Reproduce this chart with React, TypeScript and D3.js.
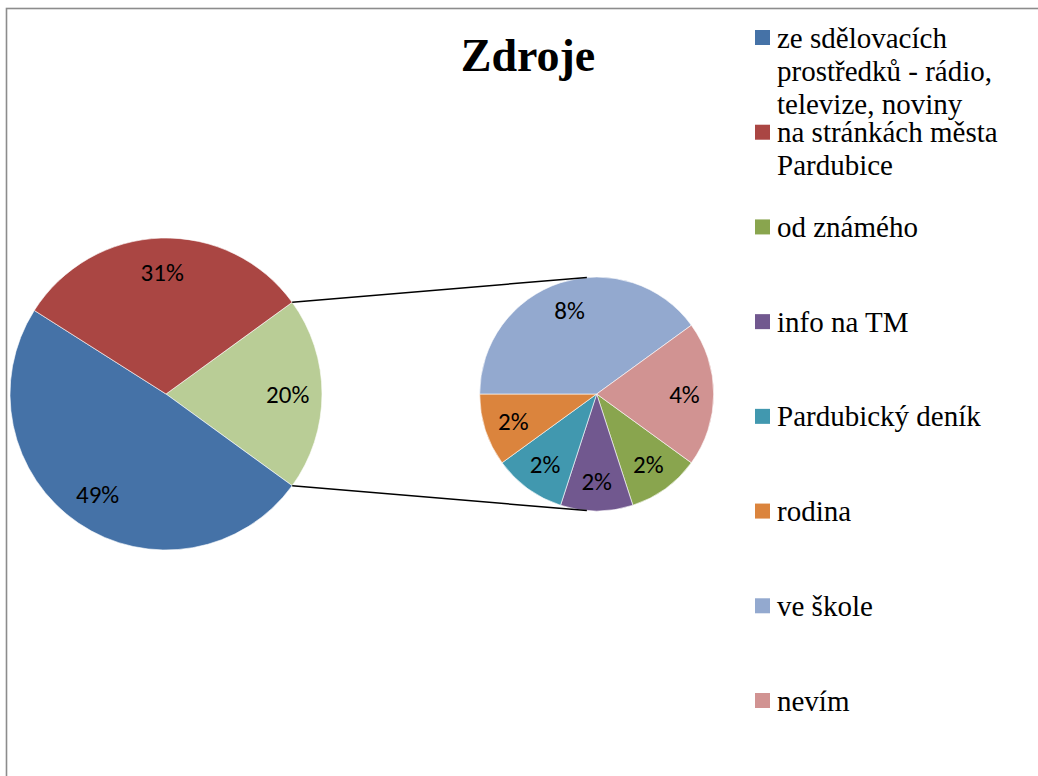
import { useEffect, useRef } from 'react'
import * as d3 from 'd3'

const title = 'Zdroje'

// main pie
const mainCategories = [
  'ze sdělovacích prostředků - rádio, televize, noviny',
  'na stránkách města Pardubice',
]
const mainValues = [49, 31]
const mainColors = ['#4572A7', '#AA4643']
const otherColor = '#B9CD96'

// secondary pie (the "other" part)
const subCategories = ['od známého', 'info na TM', 'Pardubický deník', 'rodina', 've škole', 'nevím']
const subValues = [2, 2, 2, 2, 8, 4]
const subColors = ['#89A54E', '#71588F', '#4198AF', '#DB843D', '#93A9CF', '#D19392']

const serif = "'Liberation Serif', 'DejaVu Serif', serif"
const sans = "Carlito, 'Liberation Sans', 'DejaVu Sans', sans-serif"

export default function App() {
  const svgRef = useRef<SVGSVGElement | null>(null)

  useEffect(() => {
    if (!svgRef.current) return
    const W = 1038
    const H = 776

    d3.select(svgRef.current).selectAll('*').remove()
    const svg = d3.select(svgRef.current)

    // chart area frame (runs off the right and bottom edge)
    svg.append('rect')
      .attr('x', 6.5)
      .attr('y', 8.5)
      .attr('width', W + 20)
      .attr('height', H + 20)
      .attr('fill', '#fff')
      .attr('stroke', '#8c8c8c')
      .attr('stroke-width', 1.6)

    const total = d3.sum(mainValues) + d3.sum(subValues)
    const otherValue = d3.sum(subValues)
    const fmt = (v: number) => `${Math.round((v / total) * 100)}%`

    const mc = { x: 166, y: 394, r: 156 }
    const sc = { x: 596.7, y: 394, r: 117 }

    // main pie: "other" slice centred on the right side
    const mainData = [
      { name: 'other', value: otherValue, color: otherColor },
      ...mainCategories.map((c, i) => ({ name: c, value: mainValues[i], color: mainColors[i] })),
    ]
    const otherAngle = (otherValue / total) * 2 * Math.PI
    const mainStart = Math.PI / 2 - otherAngle / 2
    const mainPie = d3.pie<any>().sort(null).value(d => d.value)
      .startAngle(mainStart).endAngle(mainStart + 2 * Math.PI)
    const mainArcs = mainPie(mainData)
    const mainArc = d3.arc<any>().innerRadius(0).outerRadius(mc.r)
    const mainLabelArc = d3.arc<any>().innerRadius(mc.r * 0.78).outerRadius(mc.r * 0.78)

    const gm = svg.append('g').attr('transform', `translate(${mc.x},${mc.y})`)
    gm.selectAll('path').data(mainArcs).join('path')
      .attr('d', mainArc)
      .attr('fill', d => d.data.color)
      .attr('stroke', '#fff')
      .attr('stroke-width', 0.6)
    gm.selectAll('text').data(mainArcs).join('text')
      .attr('transform', d => `translate(${mainLabelArc.centroid(d)})`)
      .attr('text-anchor', 'middle')
      .attr('dy', '0.34em')
      .style('font-family', sans)
      .style('font-size', '25px')
      .attr('fill', '#000')
      .text(d => fmt(d.data.value))

    // secondary pie: boundary between "rodina" and "ve škole" on the left
    const subData = subCategories.map((c, i) => ({ name: c, value: subValues[i], color: subColors[i] }))
    const before = d3.sum(subValues.slice(0, 4)) / otherValue * 2 * Math.PI
    const subStart = -Math.PI / 2 - before
    const subPie = d3.pie<any>().sort(null).value(d => d.value)
      .startAngle(subStart).endAngle(subStart + 2 * Math.PI)
    const subArcs = subPie(subData)
    const subArc = d3.arc<any>().innerRadius(0).outerRadius(sc.r)
    const subLabelArc = d3.arc<any>().innerRadius(sc.r * 0.75).outerRadius(sc.r * 0.75)

    const gs = svg.append('g').attr('transform', `translate(${sc.x},${sc.y})`)
    gs.selectAll('path').data(subArcs).join('path')
      .attr('d', subArc)
      .attr('fill', d => d.data.color)
      .attr('stroke', '#fff')
      .attr('stroke-width', 0.6)
    gs.selectAll('text').data(subArcs).join('text')
      .attr('transform', d => `translate(${subLabelArc.centroid(d)})`)
      .attr('text-anchor', 'middle')
      .attr('dy', '0.34em')
      .style('font-family', sans)
      .style('font-size', '25px')
      .attr('fill', '#000')
      .text(d => fmt(d.data.value))

    // connector lines: from the edges of the "other" slice, tangent to the secondary pie
    const otherArc = mainArcs[0]
    ;[otherArc.startAngle, otherArc.endAngle].forEach((a, k) => {
      const px = mc.x + mc.r * Math.sin(a)
      const py = mc.y - mc.r * Math.cos(a)
      const dx = px - sc.x
      const dy = py - sc.y
      const d = Math.hypot(dx, dy)
      const base = Math.atan2(dy, dx)
      const off = Math.acos(sc.r / d)
      const t = k === 0 ? base + off : base - off
      svg.append('line')
        .attr('x1', px)
        .attr('y1', py)
        .attr('x2', sc.x + sc.r * Math.cos(t))
        .attr('y2', sc.y + sc.r * Math.sin(t))
        .attr('stroke', '#000')
        .attr('stroke-width', 1.5)
    })

    // title
    svg.append('text')
      .attr('x', 528)
      .attr('y', 71)
      .attr('text-anchor', 'middle')
      .style('font-family', serif)
      .style('font-weight', 'bold')
      .style('font-size', '46px')
      .attr('fill', '#000')
      .text(title)

    // legend
    const legendItems = [
      ...mainCategories.map((c, i) => ({ name: c, color: mainColors[i] })),
      ...subCategories.map((c, i) => ({ name: c, color: subColors[i] })),
    ]
    const legendY = d3.scalePoint<number>()
      .domain(d3.range(legendItems.length))
      .range([37.5, 700.5])
    const lg = svg.append('g')
    const maxW = 240
    legendItems.forEach((item, i) => {
      const cy = legendY(i) as number
      lg.append('rect')
        .attr('x', 755)
        .attr('y', cy - 7.5)
        .attr('width', 15)
        .attr('height', 15)
        .attr('fill', item.color)
      const text = lg.append('text')
        .attr('x', 777)
        .attr('y', cy + 10)
        .style('font-family', serif)
        .style('font-size', '29px')
        .attr('fill', '#000')
      const words = item.name.split(' ')
      let line: string[] = []
      let tspan = text.append('tspan').attr('x', 777).attr('dy', 0)
      words.forEach(w => {
        line.push(w)
        tspan.text(line.join(' '))
        if ((tspan.node() as SVGTextContentElement).getComputedTextLength() > maxW && line.length > 1) {
          line.pop()
          tspan.text(line.join(' '))
          line = [w]
          tspan = text.append('tspan').attr('x', 777).attr('dy', 33).text(w)
        }
      })
    })
  }, [])

  return (
    <svg
      ref={svgRef}
      width={1038}
      height={776}
      style={{ position: 'absolute', left: 0, top: 0, display: 'block' }}
    />
  )
}
